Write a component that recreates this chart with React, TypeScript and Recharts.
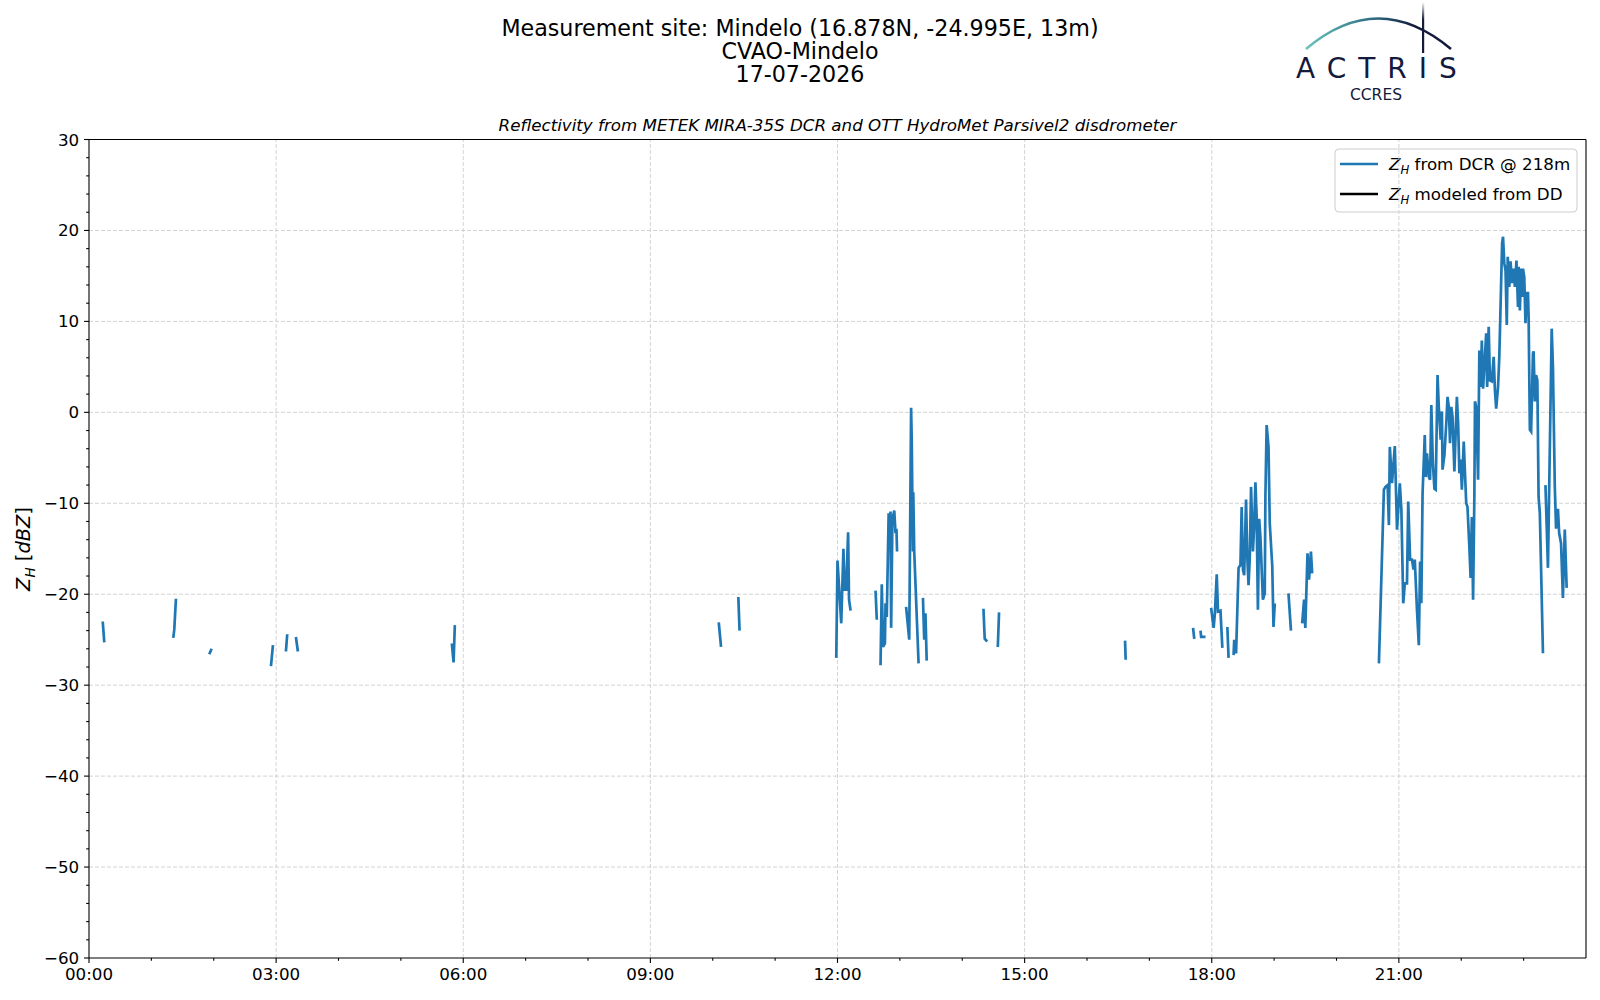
import { LineChart, Line, XAxis, YAxis, ReferenceLine, Customized } from "recharts";

type Pt = [number, number];

// time in decimal hours (UTC), reflectivity in dBZ
const nightSegments: Pt[][] = [
  [[0.22, -23.0], [0.245, -25.3]],
  [[1.351, -24.8], [1.367, -23.9], [1.394, -20.5]],
  [[1.928, -26.6], [1.966, -26.0]],
  [[2.917, -27.9], [2.949, -25.6]],
  [[3.157, -26.3], [3.178, -24.4]],
  [[3.317, -24.7], [3.349, -26.3]],
  [[5.817, -25.4], [5.845, -27.5], [5.865, -23.4]],
];

const morningSegments: Pt[][] = [
  [[10.096, -23.1], [10.133, -25.8]],
  [[10.41, -20.3], [10.43, -24.0]],
];

const noonSegments: Pt[][] = [
  [[11.98, -27.0], [12.0, -16.3], [12.06, -23.2], [12.095, -15.0], [12.115, -19.5], [12.14, -19.5], [12.17, -13.2], [12.185, -20.6], [12.21, -21.8]],
  [[12.61, -19.6], [12.63, -22.8]],
  [[12.69, -27.8], [12.71, -18.9], [12.73, -25.8], [12.76, -25.4], [12.77, -21.0], [12.79, -22.5], [12.82, -11.1], [12.84, -12.2], [12.85, -10.9], [12.86, -23.7], [12.88, -11.8], [12.91, -10.8], [12.93, -13.3], [12.945, -12.8], [12.955, -15.3]],
  [[13.1, -21.4], [13.15, -25.0], [13.18, 0.5], [13.19, -3.0], [13.2, -9.6], [13.21, -15.3], [13.215, -8.8], [13.23, -15.3], [13.3, -27.6]],
  [[13.37, -20.4], [13.39, -25.0], [13.41, -22.1], [13.43, -27.3]],
];

const afternoonSegments: Pt[][] = [
  [[14.34, -21.6], [14.36, -24.9], [14.4, -25.2]],
  [[14.57, -25.8], [14.59, -22.0]],
  [[16.61, -25.1], [16.62, -27.2]],
  [[17.7, -23.7], [17.72, -24.9]],
  [[17.82, -24.0], [17.83, -24.7], [17.9, -24.7]],
];

const eveningSegments: Pt[][] = [
  [[17.99, -21.5], [18.03, -23.7], [18.05, -22.1], [18.08, -17.8], [18.1, -21.9], [18.14, -21.8], [18.17, -25.9]],
  [[18.25, -23.6], [18.27, -27.0]],
  [[18.35, -26.7], [18.36, -25.0], [18.39, -26.5], [18.43, -17.1], [18.46, -16.8], [18.48, -10.4], [18.5, -17.3], [18.52, -17.9], [18.55, -9.6], [18.57, -15.9], [18.59, -19.0], [18.61, -15.9], [18.63, -8.2], [18.66, -15.3], [18.68, -12.6], [18.7, -7.7], [18.72, -11.5], [18.74, -21.7], [18.76, -11.7], [18.78, -13.7], [18.82, -20.6], [18.85, -19.9], [18.86, -9.3], [18.88, -1.4], [18.91, -3.8], [18.93, -12.2], [18.97, -16.9], [18.99, -23.6], [19.01, -21.0]],
  [[19.23, -19.9], [19.27, -24.0]],
  [[19.45, -23.2], [19.48, -20.6], [19.5, -23.7], [19.535, -15.5], [19.56, -18.4], [19.59, -15.3], [19.61, -17.7]],
];

const lateSegments: Pt[][] = [
  [[20.68, -27.6], [20.76, -8.5], [20.785, -8.2], [20.82, -8.0], [20.84, -12.4], [20.855, -3.8], [20.89, -7.8], [20.935, -3.7], [20.97, -12.9], [20.99, -10.7], [21.015, -7.8], [21.04, -10.7], [21.07, -21.0], [21.095, -18.8], [21.13, -18.8], [21.15, -9.8], [21.18, -16.2], [21.21, -16.2], [21.235, -17.3], [21.255, -16.2], [21.29, -21.7], [21.32, -25.6], [21.34, -16.4], [21.36, -21.0], [21.38, -8.9], [21.415, -2.5], [21.43, -7.1], [21.45, -4.5], [21.48, -7.1], [21.5, -7.4], [21.52, 0.8], [21.545, -5.6], [21.57, -8.4], [21.59, -8.5], [21.62, 4.1], [21.64, 0.6], [21.67, -3.0], [21.69, 0.1], [21.7, -6.3], [21.73, -4.7], [21.76, -1.2], [21.78, 1.7], [21.8, 0.6], [21.82, -3.4], [21.84, 0.6], [21.86, -0.5], [21.89, -6.5], [21.91, -2.3], [21.93, 1.7], [21.95, -1.2], [21.97, -6.7], [21.99, -5.2], [22.01, -8.5], [22.04, -3.2], [22.06, -6.7], [22.08, -10.0], [22.1, -10.4], [22.13, -14.8], [22.15, -18.2], [22.17, -11.5], [22.19, -20.6], [22.21, -9.3], [22.22, 1.2], [22.24, 0.6], [22.27, -7.4], [22.29, 6.8], [22.31, 2.8], [22.33, 7.9], [22.35, 2.6], [22.4, 8.7], [22.415, 2.8], [22.44, 9.4], [22.46, 3.5], [22.49, 3.4], [22.52, 6.1], [22.54, 2.4], [22.56, 0.4], [22.59, 2.8], [22.61, 6.1], [22.63, 11.6], [22.655, 18.6], [22.67, 19.3], [22.69, 16.4], [22.71, 15.6], [22.73, 9.6], [22.745, 17.1], [22.77, 13.8], [22.79, 16.6], [22.815, 14.2], [22.84, 15.8], [22.86, 13.8], [22.885, 16.7], [22.91, 11.6], [22.92, 16.0], [22.94, 11.2], [22.96, 15.8], [22.98, 12.7], [22.99, 15.8], [23.01, 14.9], [23.03, 9.8], [23.05, 13.1], [23.07, 13.1], [23.08, 10.5], [23.1, -1.9], [23.12, -2.1], [23.15, 6.5], [23.16, 6.7], [23.18, 1.2], [23.2, 4.1], [23.22, 3.5], [23.24, -9.3], [23.26, -11.1], [23.31, -26.5]],
  [[23.35, -8.0], [23.39, -17.1], [23.45, 9.2], [23.47, 5.0], [23.5, -8.2], [23.52, -12.8], [23.55, -10.6], [23.57, -13.3], [23.6, -14.4], [23.63, -20.4], [23.66, -12.9], [23.69, -19.3]],
];

const xMajor = [0, 3, 6, 9, 12, 15, 18, 21];
const xTicks = Array.from({ length: 24 }, (_, i) => i);
const yMajor = [-60, -50, -40, -30, -20, -10, 0, 10, 20, 30];
const yTicks = Array.from({ length: 46 }, (_, i) => -60 + i * 2);

const titleLines = ["Measurement site: Mindelo (16.878N, -24.995E, 13m)", "CVAO-Mindelo", "17-07-2026"];
const subtitle = "Reflectivity from METEK MIRA-35S DCR and OTT HydroMet Parsivel2 disdrometer";

const allSegments = [
  ...nightSegments,
  ...morningSegments,
  ...noonSegments,
  ...afternoonSegments,
  ...eveningSegments,
  ...lateSegments,
];

// null rows between bursts so the line breaks like the masked radar data
const data: { t: number; zh: number | null; dd?: number | null }[] = [];
allSegments.forEach((seg, i) => {
  seg.forEach(([t, zh]) => data.push({ t, zh, dd: null }));
  const next = allSegments[i + 1];
  if (next) {
    const gapT = (seg[seg.length - 1][0] + next[0][0]) / 2;
    data.push({ t: gapT, zh: null, dd: null });
  }
});

const FONT = "'DejaVu Sans', sans-serif";
const TICK_FS = 16.7;

const fmtHour = (h: number) => `${String(h).padStart(2, "0")}:00`;
const fmtNum = (v: number) => (v < 0 ? `\u2212${Math.abs(v)}` : `${v}`);

const XTick = ({ x, y, payload }: any) => {
  const major = payload.value % 3 === 0;
  const len = major ? 4.9 : 2.8;
  return (
    <g>
      <line x1={x} x2={x} y1={y} y2={y + len} stroke="#000" strokeWidth={1.1} />
      {major && (
        <text x={x} y={y + len + 4.9} dy="0.76em" textAnchor="middle" fontFamily={FONT} fontSize={TICK_FS} fill="#000">
          {fmtHour(payload.value)}
        </text>
      )}
    </g>
  );
};

const YTick = ({ x, y, payload }: any) => {
  const major = payload.value % 10 === 0;
  const len = major ? 4.9 : 2.8;
  return (
    <g>
      <line x1={x} x2={x - len} y1={y} y2={y} stroke="#000" strokeWidth={1.1} />
      {major && (
        <text x={x - len - 4.9} y={y} dy="0.36em" textAnchor="end" fontFamily={FONT} fontSize={TICK_FS} fill="#000">
          {fmtNum(payload.value)}
        </text>
      )}
    </g>
  );
};

const Overlay = () => (
  <g fontFamily={FONT}>
    {titleLines.map((line, i) => (
      <text key={line} x={800} y={36 + i * 23.2} textAnchor="middle" fontSize={22.2} fill="#000">
        {line}
      </text>
    ))}
    <text x={837.5} y={131} textAnchor="middle" fontSize={16.7} fontStyle="italic" fill="#000">
      {subtitle}
    </text>

    {/* y axis label */}
    <text transform="translate(30,549) rotate(-90)" textAnchor="middle" fontSize={19.4} fill="#000">
      <tspan fontStyle="italic">Z</tspan>
      <tspan fontStyle="italic" fontSize={13.6} dy={4.5}>H</tspan>
      <tspan dy={-4.5}> [</tspan>
      <tspan fontStyle="italic">dBZ</tspan>
      <tspan>]</tspan>
    </text>

    {/* legend */}
    <rect x={1335} y={149} width={242} height={63} rx={4} fill="#fff" fillOpacity={0.8} stroke="#cccccc" strokeWidth={1} />
    <line x1={1340} x2={1378} y1={164} y2={164} stroke="#1f77b4" strokeWidth={2.6} />
    <text x={1389} y={170} fontSize={16.7} fill="#000">
      <tspan fontStyle="italic">Z</tspan>
      <tspan fontStyle="italic" fontSize={11.7} dy={4}>H</tspan>
      <tspan dy={-4}> from DCR @ 218m</tspan>
    </text>
    <line x1={1340} x2={1378} y1={194} y2={194} stroke="#000" strokeWidth={2.6} />
    <text x={1389} y={200} fontSize={16.7} fill="#000">
      <tspan fontStyle="italic">Z</tspan>
      <tspan fontStyle="italic" fontSize={11.7} dy={4}>H</tspan>
      <tspan dy={-4}> modeled from DD</tspan>
    </text>

    {/* ACTRIS logo */}
    <defs>
      <linearGradient id="arcGrad" x1="0" x2="1" y1="0" y2="0">
        <stop offset="0" stopColor="#6cc3bd" />
        <stop offset="0.45" stopColor="#2f6f86" />
        <stop offset="0.75" stopColor="#141a3c" />
        <stop offset="1" stopColor="#141a3c" />
      </linearGradient>
      <linearGradient id="poleGrad" x1="0" x2="0" y1="0" y2="1">
        <stop offset="0" stopColor="#141a3c" stopOpacity={0} />
        <stop offset="0.35" stopColor="#141a3c" />
        <stop offset="1" stopColor="#141a3c" />
      </linearGradient>
    </defs>
    <path d="M1306,49 Q1378,-12 1451,49" fill="none" stroke="url(#arcGrad)" strokeWidth={2.6} />
    <rect x={1422} y={2} width={2.2} height={51} fill="url(#poleGrad)" />
    <text x={1296} y={78} fontSize={28} letterSpacing={12} fill="#141a3c">
      ACTRIS
    </text>
    <text x={1376} y={99.5} textAnchor="middle" fontSize={15.5} fill="#141a3c">
      CCRES
    </text>
  </g>
);

export default function App() {
  return (
    <div style={{ width: 1600, height: 1000, background: "#fff" }}>
      <style>{"body{margin:0}"}</style>
      <LineChart width={1600} height={1000} data={data} margin={{ top: 139.5, right: 14, bottom: 0, left: 29 }}>
        {xMajor.slice(1).map((h) => (
          <ReferenceLine key={`gx${h}`} x={h} stroke="#d3d3d3" strokeWidth={1} strokeDasharray="4 2" />
        ))}
        {yMajor.slice(1, -1).map((v) => (
          <ReferenceLine key={`gy${v}`} y={v} stroke="#d3d3d3" strokeWidth={1} strokeDasharray="4 2" />
        ))}
        <XAxis
          dataKey="t"
          type="number"
          domain={[0, 24]}
          ticks={xTicks}
          interval={0}
          tickLine={false}
          tickSize={0}
          tickMargin={0}
          tick={<XTick />}
          axisLine={{ stroke: "#000", strokeWidth: 1.1 }}
          height={42}
          allowDataOverflow
        />
        <YAxis
          type="number"
          domain={[-60, 30]}
          ticks={yTicks}
          interval={0}
          tickLine={false}
          tickSize={0}
          tickMargin={0}
          tick={<YTick />}
          axisLine={{ stroke: "#000", strokeWidth: 1.1 }}
          width={60}
          allowDataOverflow
        />
        <ReferenceLine y={30} stroke="#000" strokeWidth={1.1} />
        <ReferenceLine x={24} stroke="#000" strokeWidth={1.1} />
        <Line
          type="linear"
          dataKey="zh"
          name="Z_H from DCR @ 218m"
          stroke="#1f77b4"
          strokeWidth={2.7}
          dot={false}
          connectNulls={false}
          isAnimationActive={false}
        />
        <Line
          type="linear"
          dataKey="dd"
          name="Z_H modeled from DD"
          stroke="#000"
          strokeWidth={2.6}
          dot={false}
          connectNulls={false}
          isAnimationActive={false}
        />
        <Customized component={<Overlay />} />
      </LineChart>
    </div>
  );
}
